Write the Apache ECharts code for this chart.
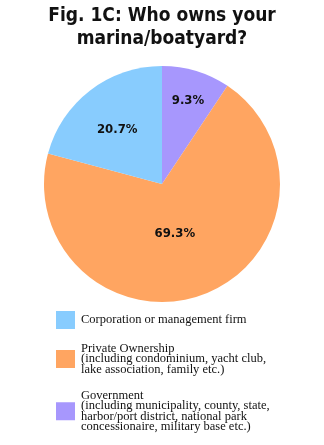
<!DOCTYPE html>
<html>
<head>
<meta charset="utf-8">
<script src="https://cdn.jsdelivr.net/npm/echarts@6/dist/echarts.min.js"></script>
<style>
  html, body { margin: 0; padding: 0; background: #fff; }
  #chart { width: 324px; height: 445px; }
</style>
</head>
<body>
<div id="chart"></div>
<script>
// slices in clockwise order from 12 o'clock
const names = ['Government', 'Private Ownership', 'Corporation or management firm'];
const legendText = {
  'Corporation or management firm': 'Corporation or management firm',
  'Private Ownership': 'Private Ownership\n(including condominium, yacht club,\nlake association, family etc.)',
  'Government': 'Government\n(including municipality, county, state,\nharbor/port district, national park\nconcessionaire, military base etc.)'
};
const values = [9.3, 69.3, 20.7];
const colors = ['#a797fd', '#ffa561', '#88ccfe'];
const legendOrder = ['Corporation or management firm', 'Private Ownership', 'Government'];
// nudges the inside labels toward where the original puts them
const labelShift = [[8, -24], [-9, -8], [-7, -5]];

const chart = echarts.init(document.getElementById('chart'));
chart.setOption({
  animation: false,
  title: {
    text: 'Fig. 1C: Who owns your\nmarina/boatyard?',
    left: 'center',
    top: 0,
    textStyle: {
      fontFamily: "'DejaVu Sans Condensed', sans-serif",
      fontSize: 19,
      fontWeight: 'bold',
      color: '#111',
      lineHeight: 23
    }
  },
  legend: {
    orient: 'vertical',
    left: 56,
    top: 311,
    height: 200,
    padding: 0,
    itemWidth: 19,
    itemHeight: 18,
    itemGap: 13,
    icon: 'rect',
    data: legendOrder,
    formatter: n => legendText[n],
    textStyle: {
      fontFamily: "'Liberation Serif', serif",
      fontSize: 12.5,
      lineHeight: 10.5,
      color: '#111',
      padding: [0, 0, 0, 1]
    }
  },
  series: [{
    type: 'pie',
    center: [162, 184],
    radius: 118,
    startAngle: 90,
    clockwise: true,
    avoidLabelOverlap: false,
    label: {
      position: 'inside',
      formatter: p => p.value.toFixed(1) + '%',
      fontFamily: "'DejaVu Sans Condensed', sans-serif",
      fontWeight: 'bold',
      fontSize: 13,
      color: '#111'
    },
    labelLine: { show: false },
    emphasis: { disabled: true },
    data: names.map((n, i) => ({
      name: n,
      value: values[i],
      itemStyle: { color: colors[i] },
      label: { offset: labelShift[i] }
    }))
  }]
});
</script>
</body>
</html>
